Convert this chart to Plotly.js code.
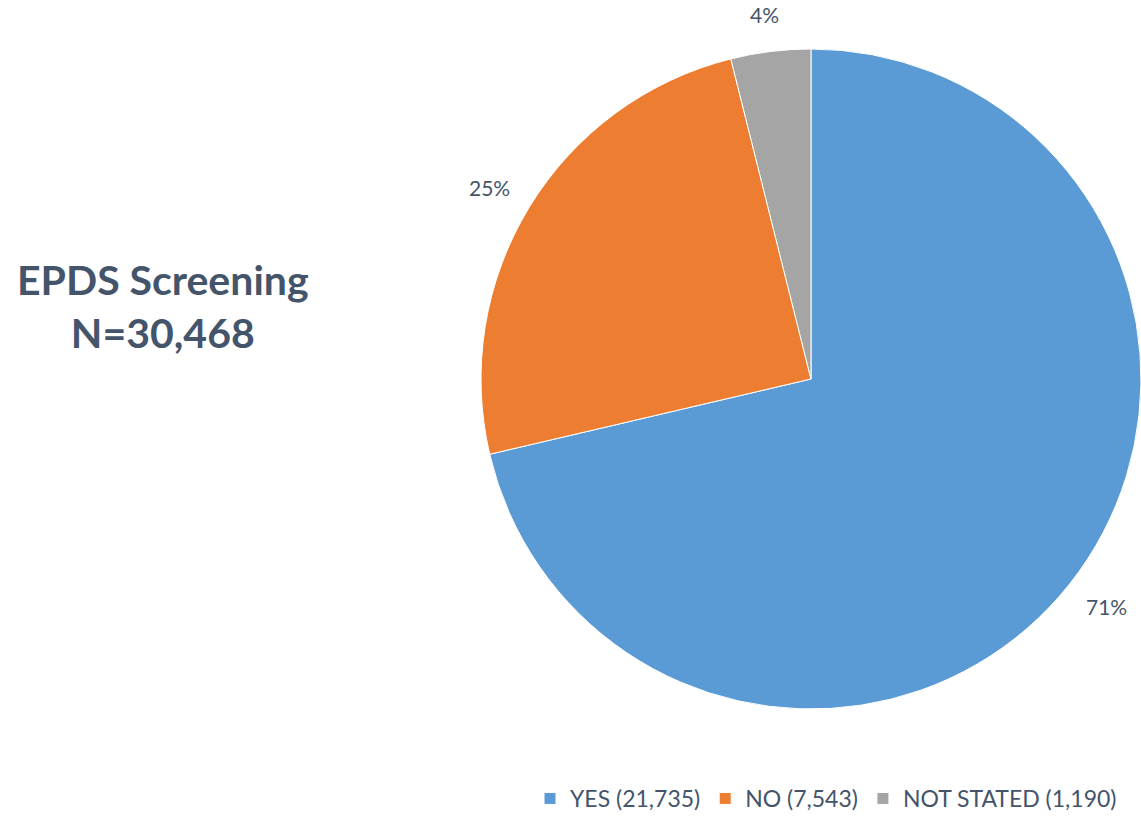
<!DOCTYPE html>
<html><head><meta charset="utf-8">
<script src="https://cdn.plot.ly/plotly-3.0.1.min.js"></script>
<style>html,body{margin:0;padding:0;background:#fff}#chart{width:1141px;height:820px}</style>
</head><body><div id="chart"></div>
<script>
const labels = ["YES (21,735)", "NO (7,543)", "NOT STATED (1,190)"];
const values = [21735, 7543, 1190];
const colors = ["#5B9BD5", "#ED7D31", "#A5A5A5"];
const titleLines = ["EPDS Screening", "N=30,468"];

const W = 1141, H = 820;
const FONT = "Lato, 'Open Sans', sans-serif";
const CX = 811, CY = 379, R = 330;

// percent labels placed outside each slice at its mid-angle
const total = values.reduce((a, b) => a + b, 0);
const pctAnn = [];
let cum = 0;
values.forEach((v) => {
  const mid = (cum + v / 2) / total * 2 * Math.PI; // clockwise from 12 o'clock
  cum += v;
  const dx = Math.sin(mid), dy = -Math.cos(mid);
  const px = CX + (R + 25) * dx + 22 * dx;
  const py = CY + (R + 25) * dy + 12 * dy;
  pctAnn.push({
    text: Math.round(v / total * 100) + "%",
    x: px / W, y: 1 - py / H, xref: "paper", yref: "paper",
    xanchor: "center", yanchor: "middle", showarrow: false,
    font: {family: FONT, size: 21, color: "#44546A"}
  });
});

const data = [{
  type: "pie",
  labels: labels,
  values: values,
  sort: false,
  direction: "clockwise",
  rotation: 0,
  marker: {colors: colors, line: {color: "#ffffff", width: 1}},
  textinfo: "none",
  hoverinfo: "label+percent",
  domain: {x: [(CX - R) / W, (CX + R) / W], y: [1 - (CY + R) / H, 1 - (CY - R) / H]},
  automargin: false
}];
const layout = {
  width: W, height: H,
  margin: {l: 0, r: 0, t: 0, b: 0},
  paper_bgcolor: "#ffffff",
  showlegend: true,
  legend: {
    orientation: "h", x: 1122 / W, xanchor: "right", y: 0.0, yanchor: "bottom",
    font: {family: FONT, size: 23, color: "#44546A"},
    itemwidth: 30, traceorder: "normal"
  },
  annotations: [{
    text: "<b>" + titleLines.join("<br>") + "</b>",
    x: 163 / W, y: 1 - 306 / H, xref: "paper", yref: "paper",
    xanchor: "center", yanchor: "middle", showarrow: false,
    font: {family: FONT, size: 41, color: "#44546A"}
  }].concat(pctAnn)
};
Plotly.newPlot("chart", data, layout, {displayModeBar: false});
</script></body></html>
